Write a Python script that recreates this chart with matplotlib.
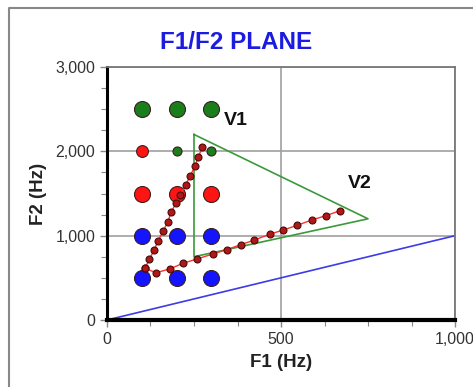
import matplotlib
matplotlib.use('Agg')
import matplotlib.pyplot as plt
from matplotlib.lines import Line2D
from matplotlib.ticker import FuncFormatter, MultipleLocator

plt.rcParams['font.family'] = ['Liberation Sans', 'DejaVu Sans']

# vowel grid (F1, F2 in Hz)
grid_f1 = [100, 200, 300]
row_f2 = [2500, 1500, 1000, 500]
row_colors = ['#1a7f1a', '#ff1414', '#1414ff', '#1414ff']

# row at 2000 Hz: mixed sizes
mid_f1 = [100, 200, 300]
mid_f2 = [2000, 2000, 2000]
mid_colors = ['#ff1414', '#1a7f1a', '#1a7f1a']
mid_sizes = [8.5, 6.5, 6.5]

# V1 trajectory
v1_f1 = [109, 122, 135, 147, 162, 175, 184, 198, 210, 226, 239, 253, 262, 274]
v1_f2 = [613, 720, 830, 937, 1059, 1166, 1277, 1384, 1483, 1601, 1708, 1827, 1930, 2049]

# V2 trajectory
v2_f1 = [109, 141, 181, 218, 259, 304, 344, 384, 422, 467, 507, 547, 588, 629, 670]
v2_f2 = [613, 560, 607, 672, 724, 783, 834, 893, 946, 1016, 1068, 1123, 1186, 1237, 1297]

# target triangle and diagonal
tri_f1 = [250, 750, 250, 250]
tri_f2 = [2200, 1200, 750, 2200]
diag_f1 = [0, 1000]
diag_f2 = [0, 1000]

fig = plt.figure(figsize=(4.73, 3.87), dpi=100)
ax = fig.add_axes([0.2262, 0.1731, 0.7358, 0.6538])

ax.grid(True, which='major', color='#a0a0a0', linewidth=1.2)
ax.set_axisbelow(True)

ax.plot(diag_f1, diag_f2, color='#3c3ce6', linewidth=1.2, zorder=2)
ax.plot(tri_f1, tri_f2, color='#3a9a3a', linewidth=1.2, zorder=2)

for f2, c in zip(row_f2, row_colors):
    ax.plot(grid_f1, [f2] * len(grid_f1), linestyle='none', marker='o',
            markersize=11.5, markerfacecolor=c, markeredgecolor='#3a2020',
            markeredgewidth=0.8, zorder=3)
for x, y, c, s in zip(mid_f1, mid_f2, mid_colors, mid_sizes):
    ax.plot([x], [y], linestyle='none', marker='o', markersize=s,
            markerfacecolor=c, markeredgecolor='#3a2020',
            markeredgewidth=0.8, zorder=3)

for xs, ys in [(v1_f1, v1_f2), (v2_f1, v2_f2)]:
    ax.plot(xs, ys, color='#ff3030', linewidth=1.0, zorder=4)
    ax.plot(xs, ys, linestyle='none', marker='o', markersize=5,
            markerfacecolor='#b01818', markeredgecolor='#4a0a0a',
            markeredgewidth=0.8, zorder=5)

ax.text(369, 2360, 'V1', fontsize=14, fontweight='bold', color='#111111',
        ha='center', va='center')
ax.text(727, 1619, 'V2', fontsize=14, fontweight='bold', color='#111111',
        ha='center', va='center')

ax.set_xlim(0, 1000)
ax.set_ylim(0, 3000)
ax.xaxis.set_major_locator(MultipleLocator(500))
ax.xaxis.set_minor_locator(MultipleLocator(125))
ax.yaxis.set_major_locator(MultipleLocator(1000))
ax.yaxis.set_minor_locator(MultipleLocator(250))
fmt = FuncFormatter(lambda v, p: f"{int(v):,}")
ax.xaxis.set_major_formatter(fmt)
ax.yaxis.set_major_formatter(fmt)
ax.tick_params(which='both', direction='out', color='#888888', labelsize=11.5,
               labelcolor='#333333')
ax.tick_params(which='major', length=5, width=1)
ax.tick_params(which='minor', length=4, width=0.8)

for s in ['top', 'right']:
    ax.spines[s].set_color('#777777')
    ax.spines[s].set_linewidth(1.3)
ax.spines['left'].set_color('black')
ax.spines['left'].set_linewidth(2.2)
ax.spines['bottom'].set_color('black')
ax.spines['bottom'].set_linewidth(3)

ax.set_xlabel('F1 (Hz)', fontsize=13.5, fontweight='bold', color='#222222', labelpad=5)
ax.set_ylabel('F2 (Hz)', fontsize=13.5, fontweight='bold', color='#222222', labelpad=6)

fig.text(0.5, 0.891, 'F1/F2 PLANE', fontsize=17.5, fontweight='bold',
         color='#1c1ce0', ha='center', va='center')

# outer panel frame
fx = 9 / 473
fy = 1 - 8 / 387
fig.add_artist(Line2D([fx, fx, 1], [0, fy, fy], transform=fig.transFigure,
                      color='#888888', linewidth=1.5))

fig.savefig('out.png', dpi=100)
